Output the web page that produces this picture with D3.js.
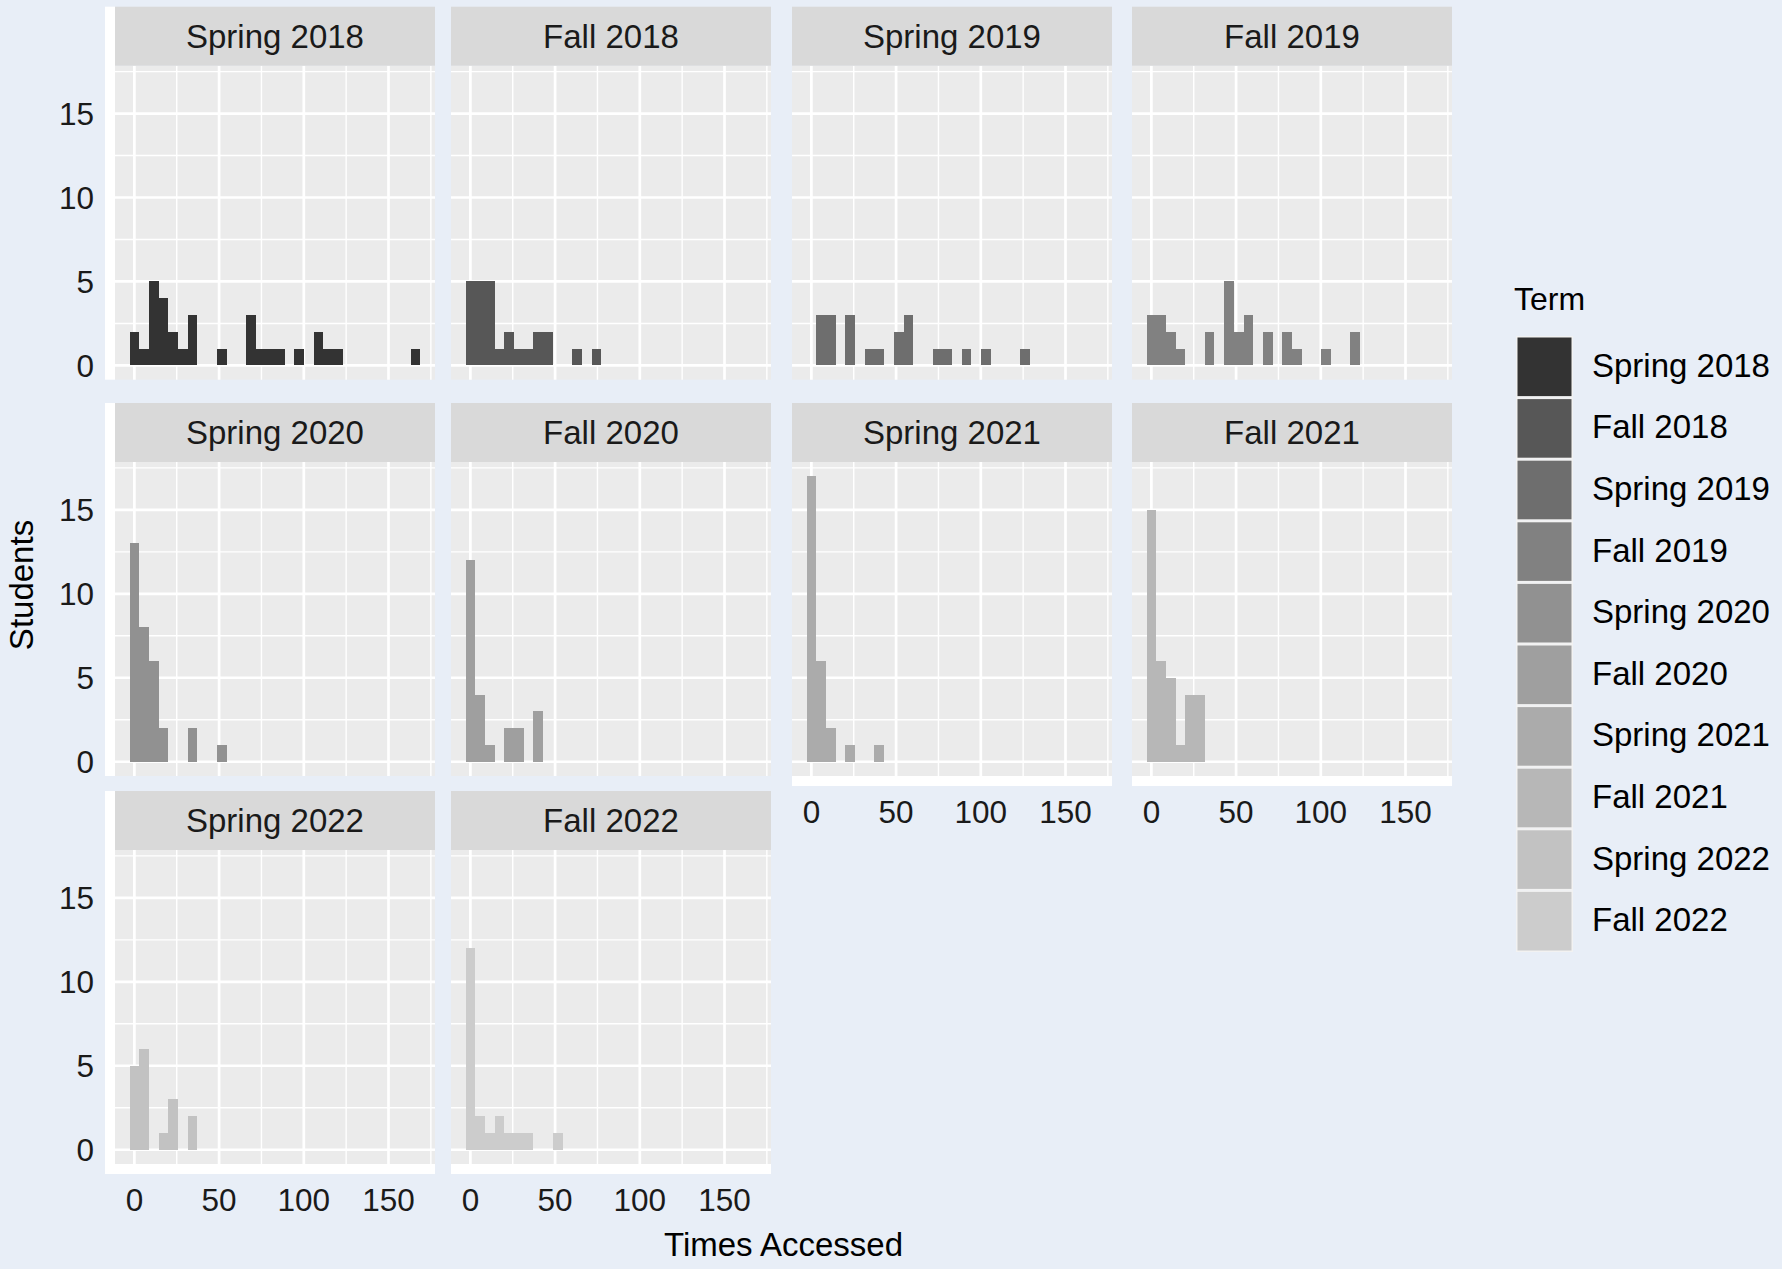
<!DOCTYPE html>
<html>
<head>
<meta charset="utf-8">
<script src="https://cdn.jsdelivr.net/npm/d3@7"></script>
<style>
  body { margin: 0; background: #E8EEF7; }
  svg text { font-family: "Liberation Sans", Arial, Helvetica, sans-serif; }
</style>
</head>
<body>
<svg id="chart" width="1782" height="1269"></svg>
<script>
// terms, in facet order
const terms = ["Spring 2018", "Fall 2018", "Spring 2019", "Fall 2019", "Spring 2020",
               "Fall 2020", "Spring 2021", "Fall 2021", "Spring 2022", "Fall 2022"];

// students per bin (30 bins of width binWidth starting at binStart), trailing zeros left out
const spring2018 = [2, 1, 5, 4, 2, 1, 3, 0, 0, 1, 0, 0, 3, 1, 1, 1, 0, 1, 0, 2, 1, 1, 0, 0, 0, 0, 0, 0, 0, 1];
const fall2018   = [5, 5, 5, 1, 2, 1, 1, 2, 2, 0, 0, 1, 0, 1];
const spring2019 = [0, 3, 3, 0, 3, 0, 1, 1, 0, 2, 3, 0, 0, 1, 1, 0, 1, 0, 1, 0, 0, 0, 1];
const fall2019   = [3, 3, 2, 1, 0, 0, 2, 0, 5, 2, 3, 0, 2, 0, 2, 1, 0, 0, 1, 0, 0, 2];
const spring2020 = [13, 8, 6, 2, 0, 0, 2, 0, 0, 1];
const fall2020   = [12, 4, 1, 0, 2, 2, 0, 3];
const spring2021 = [17, 6, 2, 0, 1, 0, 0, 1];
const fall2021   = [15, 6, 5, 1, 4, 4];
const spring2022 = [5, 6, 0, 1, 3, 0, 2];
const fall2022   = [12, 2, 1, 2, 1, 1, 1, 0, 0, 1];
const counts = [spring2018, fall2018, spring2019, fall2019, spring2020,
                fall2020, spring2021, fall2021, spring2022, fall2022];

const binCount = 30;
const binWidth = 166 / 29;
const binStart = -binWidth / 2;

// grey scale fill, one per term
const greys = ["#333333", "#575757", "#6E6E6E", "#818181", "#919191",
               "#9F9F9F", "#ABABAB", "#B7B7B7", "#C2C2C2", "#CCCCCC"];

const xTicks = [0, 50, 100, 150];
const xMinor = [25, 75, 125, 175];
const yTicks = [0, 5, 10, 15];
const yMinor = [2.5, 7.5, 12.5, 17.5];

const svg = d3.select("#chart");

// layout
const colX = [115, 451, 792, 1132];
const rowTop = [6.7, 403, 791];
const panelW = 320, stripH = 59, panelH = 314;
const tickLen = 10;

svg.append("rect").attr("width", 1782).attr("height", 1269).attr("fill", "#E8EEF7");

// shared scales (ggplot-style 5% expansion)
const xLo = binStart, xHi = binStart + binCount * binWidth;
const xPad = (xHi - xLo) * 0.05;
const yMax = d3.max(counts, c => d3.max(c));
const x = d3.scaleLinear().domain([xLo - xPad, xHi + xPad]).range([0, panelW]);
const y = d3.scaleLinear().domain([-yMax * 0.05, yMax * 1.05]).range([panelH, 0]);

function hasPanelBelow(i) { return i + 4 < terms.length; }

terms.forEach(function(term, i) {
    const col = i % 4, row = Math.floor(i / 4);
    const g = svg.append("g")
        .attr("transform", "translate(" + colX[col] + "," + (rowTop[row] + stripH) + ")");

    // white axis bands
    if (col === 0) {
        svg.append("rect")
            .attr("x", colX[col] - tickLen).attr("y", rowTop[row])
            .attr("width", tickLen)
            .attr("height", stripH + panelH + (hasPanelBelow(i) ? 0 : tickLen))
            .attr("fill", "#fff");
    }
    if (!hasPanelBelow(i)) {
        svg.append("rect")
            .attr("x", colX[col]).attr("y", rowTop[row] + stripH + panelH)
            .attr("width", panelW).attr("height", tickLen)
            .attr("fill", "#fff");
    }

    // strip
    svg.append("rect")
        .attr("x", colX[col]).attr("y", rowTop[row])
        .attr("width", panelW).attr("height", stripH)
        .attr("fill", "#D9D9D9");
    svg.append("text")
        .attr("x", colX[col] + panelW / 2)
        .attr("y", rowTop[row] + stripH / 2 + 11.8)
        .attr("text-anchor", "middle")
        .attr("font-size", 33)
        .attr("fill", "#1A1A1A")
        .text(term);

    // panel + grid
    g.append("rect").attr("width", panelW).attr("height", panelH).attr("fill", "#EBEBEB");
    g.selectAll(".xminor").data(xMinor).join("line")
        .attr("x1", d => x(d)).attr("x2", d => x(d))
        .attr("y1", 0).attr("y2", panelH)
        .attr("stroke", "#fff").attr("stroke-width", 1.4);
    g.selectAll(".yminor").data(yMinor).join("line")
        .attr("y1", d => y(d)).attr("y2", d => y(d))
        .attr("x1", 0).attr("x2", panelW)
        .attr("stroke", "#fff").attr("stroke-width", 1.4);
    g.selectAll(".xmajor").data(xTicks).join("line")
        .attr("x1", d => x(d)).attr("x2", d => x(d))
        .attr("y1", 0).attr("y2", panelH)
        .attr("stroke", "#fff").attr("stroke-width", 2.7);
    g.selectAll(".ymajor").data(yTicks).join("line")
        .attr("y1", d => y(d)).attr("y2", d => y(d))
        .attr("x1", 0).attr("x2", panelW)
        .attr("stroke", "#fff").attr("stroke-width", 2.7);

    // histogram bars
    const bins = counts[i].map((c, b) => ({c: c, x0: binStart + b * binWidth, x1: binStart + (b + 1) * binWidth}))
        .filter(d => d.c > 0);
    g.selectAll(".bar").data(bins).join("rect")
        .attr("x", d => x(d.x0))
        .attr("width", d => x(d.x1) - x(d.x0))
        .attr("y", d => y(d.c))
        .attr("height", d => y(0) - y(d.c))
        .attr("fill", greys[i])
        .attr("shape-rendering", "crispEdges");

    // y axis on first column
    if (col === 0) {
        g.selectAll(".ytick").data(yTicks).join("line")
            .attr("x1", -tickLen).attr("x2", 0)
            .attr("y1", d => y(d)).attr("y2", d => y(d))
            .attr("stroke", "#333").attr("stroke-width", 2.4);
        g.selectAll(".ylab").data(yTicks).join("text")
            .attr("x", -21).attr("y", d => y(d) + 11.3)
            .attr("text-anchor", "end")
            .attr("font-size", 31.5)
            .attr("fill", "#1A1A1A")
            .text(d => d);
    }
    // x axis under bottom panels
    if (!hasPanelBelow(i)) {
        g.selectAll(".xtick").data(xTicks).join("line")
            .attr("x1", d => x(d)).attr("x2", d => x(d))
            .attr("y1", panelH).attr("y2", panelH + tickLen)
            .attr("stroke", "#333").attr("stroke-width", 2.4);
        g.selectAll(".xlab").data(xTicks).join("text")
            .attr("x", d => x(d)).attr("y", panelH + 47)
            .attr("text-anchor", "middle")
            .attr("font-size", 31.5)
            .attr("fill", "#1A1A1A")
            .text(d => d);
    }
});

// axis titles
svg.append("text")
    .attr("transform", "translate(33," + 585 + ") rotate(-90)")
    .attr("text-anchor", "middle")
    .attr("font-size", 33)
    .attr("fill", "#000")
    .text("Students");
svg.append("text")
    .attr("x", (colX[0] + colX[3] + panelW) / 2)
    .attr("y", 1256)
    .attr("text-anchor", "middle")
    .attr("font-size", 33)
    .attr("fill", "#000")
    .text("Times Accessed");

// legend
const legend = svg.append("g").attr("transform", "translate(1514,0)");
legend.append("text")
    .attr("x", 0).attr("y", 310)
    .attr("font-size", 32)
    .attr("fill", "#000")
    .text("Term");
const keyTop = 336, keyH = 61.6, keyW = 57;
const keys = legend.selectAll(".key").data(terms).join("g")
    .attr("transform", (d, k) => "translate(2," + (keyTop + k * keyH) + ")");
keys.append("rect").attr("width", keyW).attr("height", keyH).attr("fill", "#F2F2F2");
keys.append("rect")
    .attr("x", 1.5).attr("y", 1.5)
    .attr("width", keyW - 3).attr("height", keyH - 3)
    .attr("fill", (d, k) => greys[k]);
keys.append("text")
    .attr("x", 76).attr("y", keyH / 2 + 10)
    .attr("font-size", 33)
    .attr("fill", "#000")
    .text(d => d);
</script>
</body>
</html>
